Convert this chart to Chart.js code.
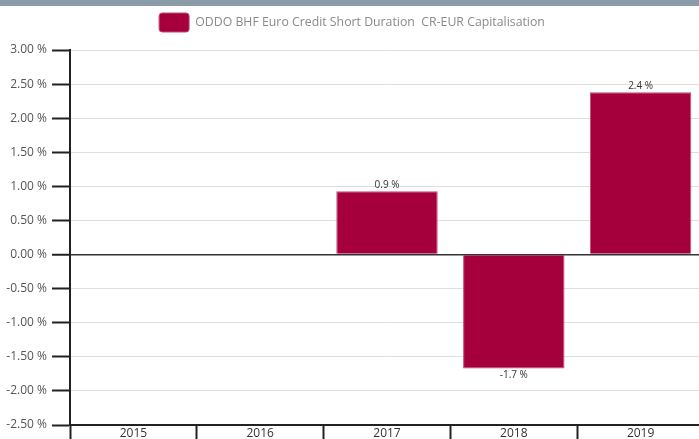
<!DOCTYPE html>
<html>
<head>
<meta charset="utf-8">
<script src="https://cdn.jsdelivr.net/npm/chart.js@4"></script>
<style>
  html, body { margin: 0; padding: 0; overflow: hidden; background: #fff; }
  #band { height: 6px; background: #8b9ca8; }
  #wrap { position: relative; width: 704px; height: 433px; }
</style>
</head>
<body>
<div id="band"></div>
<div id="wrap"><canvas id="perf"></canvas></div>
<script>
const annees = ['2015', '2016', '2017', '2018', '2019'];
const performances = [null, null, 0.93, -1.67, 2.38];
const etiquettes = ['', '', '0.9 %', '-1.7 %', '2.4 %'];
const nomFonds = 'ODDO BHF Euro Credit Short Duration  CR-EUR Capitalisation';

const couleurBarre = '#a5003c';
const police = "'Open Sans', 'DejaVu Sans', sans-serif";

// petites valeurs au-dessus / en dessous des barres
const pluginValeurs = {
    id: 'valeurs',
    afterDatasetsDraw(chart) {
        const ctx = chart.ctx;
        const meta = chart.getDatasetMeta(0);
        ctx.save();
        ctx.font = '10px ' + police;
        ctx.fillStyle = '#333';
        ctx.textAlign = 'center';
        meta.data.forEach((bar, i) => {
            const v = performances[i];
            if (v === null) return;
            const p = bar.getProps(['x', 'y'], true);
            if (v >= 0) {
                ctx.textBaseline = 'bottom';
                ctx.fillText(etiquettes[i], p.x, p.y - 1);
            } else {
                ctx.textBaseline = 'top';
                ctx.fillText(etiquettes[i], p.x, p.y + 2);
            }
        });
        ctx.restore();
    }
};

// un peu plus d'espace sous la légende
const pluginEspaceLegende = {
    id: 'espaceLegende',
    beforeInit(chart) {
        const fitOrig = chart.legend.fit;
        chart.legend.fit = function () {
            fitOrig.bind(chart.legend)();
            this.height += 8;
        };
    }
};

new Chart(document.getElementById('perf'), {
    type: 'bar',
    data: {
        labels: annees,
        datasets: [{
            label: nomFonds,
            data: performances,
            backgroundColor: couleurBarre,
            borderColor: '#c24a72',
            borderWidth: 1,
            barPercentage: 0.8,
            categoryPercentage: 1
        }]
    },
    options: {
        responsive: true,
        maintainAspectRatio: false,
        animation: false,
        layout: { padding: 0 },
        plugins: {
            legend: {
                display: true,
                position: 'top',
                labels: {
                    boxWidth: 30,
                    boxHeight: 19,
                    useBorderRadius: true,
                    borderRadius: 3,
                    color: '#8a8a8a',
                    padding: 7,
                    font: { family: police, size: 12.3 }
                }
            },
            tooltip: { enabled: false }
        },
        scales: {
            x: {
                offset: true,
                afterFit(scale) { scale.height = 14; },
                border: { color: '#222', width: 2 },
                grid: {
                    offset: true,
                    drawOnChartArea: false,
                    tickLength: 15,
                    tickColor: '#222',
                    tickWidth: 2
                },
                ticks: {
                    color: '#333',
                    padding: -14,
                    font: { family: police, size: 12 }
                }
            },
            y: {
                min: -2.5,
                max: 3,
                afterFit(scale) { scale.width = 70; },
                border: { color: '#222', width: 2 },
                grid: {
                    color: ctx => (ctx.tick && ctx.tick.value === 0) ? '#333' : '#dedede',
                    lineWidth: ctx => (ctx.tick && ctx.tick.value === 0) ? 1.5 : 1,
                    tickLength: 18,
                    tickColor: '#222',
                    tickWidth: 2
                },
                ticks: {
                    stepSize: 0.5,
                    color: '#555',
                    padding: 5,
                    font: { family: police, size: 12 },
                    callback: v => v.toFixed(2) + ' %'
                }
            }
        }
    },
    plugins: [pluginValeurs, pluginEspaceLegende]
});
</script>
</body>
</html>
